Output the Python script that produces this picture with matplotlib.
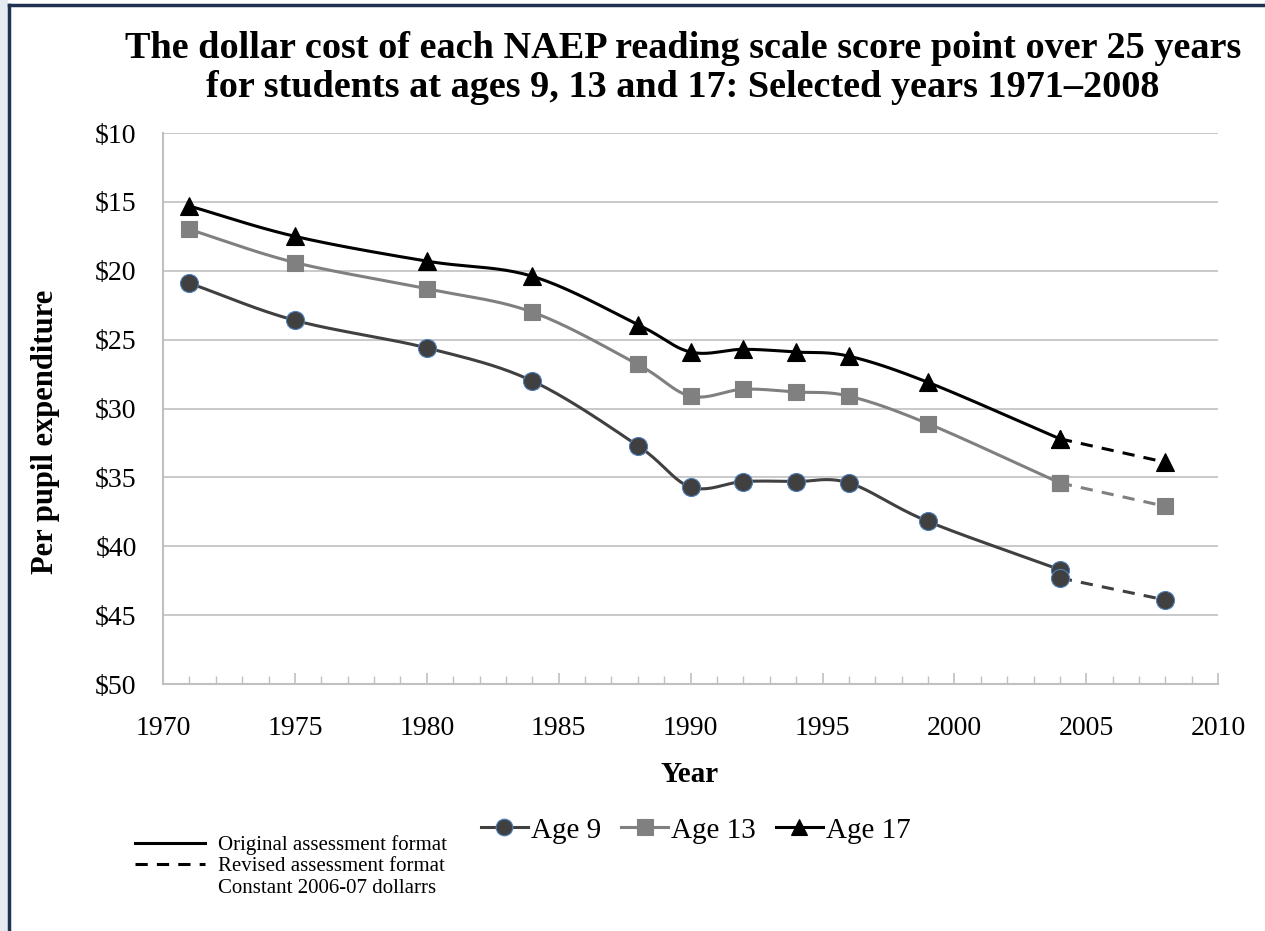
import numpy as np
import matplotlib.pyplot as plt
from matplotlib.lines import Line2D
from matplotlib.patches import Rectangle

plt.rcParams['font.family'] = ['Liberation Serif', 'DejaVu Serif']

# data (per pupil dollars per scale point)
years = [1971, 1975, 1980, 1984, 1988, 1990, 1992, 1994, 1996, 1999, 2004]
age9 = [20.9, 23.6, 25.6, 28.0, 32.7, 35.7, 35.3, 35.3, 35.4, 38.2, 41.7]
age13 = [17.0, 19.4, 21.3, 23.0, 26.8, 29.1, 28.6, 28.8, 29.1, 31.1, 35.4]
age17 = [15.3, 17.5, 19.3, 20.4, 23.9, 25.9, 25.7, 25.9, 26.2, 28.1, 32.2]

rev_years = [2004, 2008]
age9_rev = [42.3, 43.9]
age13_rev = [35.4, 37.1]
age17_rev = [32.2, 33.9]

labels = ['Age 9', 'Age 13', 'Age 17']
colors = ['#404040', '#808080', '#000000']
markers = ['o', 's', '^']
sizes = [13, 12, 13]


def smooth(x, y, n=24):
    # catmull-rom curve through the points, like excel's smoothed line
    x = np.asarray(x, float)
    y = np.asarray(y, float)
    px = np.concatenate([[2 * x[0] - x[1]], x, [2 * x[-1] - x[-2]]])
    py = np.concatenate([[2 * y[0] - y[1]], y, [2 * y[-1] - y[-2]]])
    xs, ys = [], []
    t = np.linspace(0, 1, n)
    for i in range(1, len(px) - 2):
        for p, out in ((px, xs), (py, ys)):
            p0, p1, p2, p3 = p[i - 1], p[i], p[i + 1], p[i + 2]
            out.extend(0.5 * (2 * p1 + (-p0 + p2) * t
                              + (2 * p0 - 5 * p1 + 4 * p2 - p3) * t ** 2
                              + (-p0 + 3 * p1 - 3 * p2 + p3) * t ** 3))
    return xs, ys


fig = plt.figure(figsize=(12.65, 9.31), dpi=100)

# slide frame
fig.patches.append(Rectangle((0, 0), 0.0063, 1, transform=fig.transFigure,
                             facecolor='#e6ebf2', edgecolor='none', zorder=0))
fig.add_artist(Line2D([0.0071, 0.0071], [0, 0.9945], transform=fig.transFigure,
                      color='#1f3350', lw=2.5))
fig.add_artist(Line2D([0.0071, 1], [0.9945, 0.9945], transform=fig.transFigure,
                      color='#1f3350', lw=2.5))

ax = fig.add_axes([0.1289, 0.2653, 0.8341, 0.5918])

for vals, rev, c, m, ms in zip([age9, age13, age17], [age9_rev, age13_rev, age17_rev],
                               colors, markers, sizes):
    sx, sy = smooth(years, vals)
    ax.plot(sx, sy, color=c, lw=2.2, zorder=3)
    ax.plot(rev_years, rev, color=c, lw=2.2, ls=(0, (4, 3)), zorder=3)
    mec = '#4f81bd' if m == 'o' else c
    ax.plot(years, vals, ls='none', marker=m, color=c, ms=ms, mec=mec, mew=0.8, zorder=4)
    ax.plot(rev_years, rev, ls='none', marker=m, color=c, ms=ms, mec=mec, mew=0.8, zorder=4)

ax.set_xlim(1970, 2010)
ax.set_ylim(50, 10)
ax.set_yticks(range(10, 51, 5))
ax.set_yticklabels(['$%d' % v for v in range(10, 51, 5)])
ax.set_xticks(range(1970, 2011, 5))
ax.set_xticks(range(1970, 2011), minor=True)
ax.grid(axis='y', color='#c0c0c0', lw=1.2)
ax.set_axisbelow(True)
for s in ['top', 'right']:
    ax.spines[s].set_visible(False)
for s in ['left', 'bottom']:
    ax.spines[s].set_color('#c0c0c0')
    ax.spines[s].set_linewidth(1.5)
ax.tick_params(axis='x', which='both', direction='in', color='#c0c0c0',
               labelsize=20, pad=23)
ax.tick_params(axis='x', which='major', length=8, width=1.2)
ax.tick_params(axis='x', which='minor', length=6, width=1)
ax.tick_params(axis='y', length=0, labelsize=20, pad=19)

fig.text(0.54, 0.927,
         'The dollar cost of each NAEP reading scale score point over 25 years\n'
         'for students at ages 9, 13 and 17: Selected years 1971\u20132008',
         ha='center', va='center', fontsize=27.5, fontweight='bold', linespacing=1.12)
fig.text(0.0356, 0.536, 'Per pupil expenditure', rotation=90, ha='center', va='center',
         fontsize=22, fontweight='bold')
fig.text(0.545, 0.1676, 'Year', ha='center', va='center', fontsize=21, fontweight='bold')

handles = [Line2D([], [], color=c, marker=m, ms=ms - 1, lw=2.2,
                  mec='#4f81bd' if m == 'o' else c, mew=0.8)
           for c, m, ms in zip(colors, markers, sizes)]
fig.legend(handles, labels, loc='center', bbox_to_anchor=(0.55, 0.108), ncol=3,
           frameon=False, fontsize=21, handlelength=1.6, handletextpad=0.1,
           columnspacing=0.7)

fig.add_artist(Line2D([0.107, 0.162], [0.0945, 0.0945], transform=fig.transFigure,
                      color='black', lw=2.2))
fig.add_artist(Line2D([0.107, 0.162], [0.0720, 0.0720], transform=fig.transFigure,
                      color='black', lw=2.2, ls=(0, (4, 3))))
for i, txt in enumerate(['Original assessment format', 'Revised assessment format',
                         'Constant 2006-07 dollarrs']):
    fig.text(0.172, 0.0925 - i * 0.0235, txt, ha='left', va='center', fontsize=15)

fig.savefig('out.png', dpi=100)
